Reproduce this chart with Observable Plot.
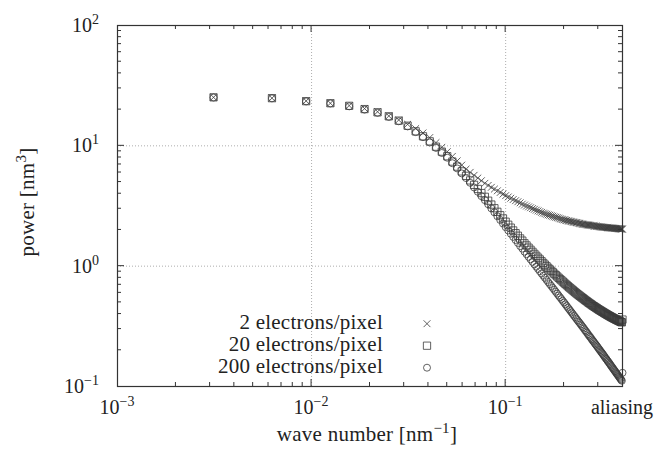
<!DOCTYPE html>
<html><head><meta charset="utf-8">
<script src="https://cdn.jsdelivr.net/npm/d3@7"></script>
<script src="https://cdn.jsdelivr.net/npm/@observablehq/plot@0.6"></script>
<style>html,body{margin:0;padding:0;background:#fff;} #chart svg{display:block;}</style>
</head><body><div id="chart"></div>
<script>
// wave numbers [nm^-1]
const waveNumber = [
0.003125,0.00625,0.009375,0.0125,0.015625,0.01875,0.021875,0.025,0.028125,0.03125,0.034375,0.0375,0.040625,0.04375,0.046875,0.05,
0.053125,0.05625,0.059375,0.0625,0.065625,0.06875,0.071875,0.075,0.078125,0.08125,0.084375,0.0875,0.090625,0.09375,0.096875,0.1,
0.103125,0.10625,0.109375,0.1125,0.115625,0.11875,0.121875,0.125,0.128125,0.13125,0.134375,0.1375,0.140625,0.14375,0.146875,0.15,
0.153125,0.15625,0.159375,0.1625,0.165625,0.16875,0.171875,0.175,0.178125,0.18125,0.184375,0.1875,0.190625,0.19375,0.196875,0.2,
0.203125,0.20625,0.209375,0.2125,0.215625,0.21875,0.221875,0.225,0.228125,0.23125,0.234375,0.2375,0.240625,0.24375,0.246875,0.25,
0.253125,0.25625,0.259375,0.2625,0.265625,0.26875,0.271875,0.275,0.278125,0.28125,0.284375,0.2875,0.290625,0.29375,0.296875,0.3,
0.303125,0.30625,0.309375,0.3125,0.315625,0.31875,0.321875,0.325,0.328125,0.33125,0.334375,0.3375,0.340625,0.34375,0.346875,0.35,
0.353125,0.35625,0.359375,0.3625,0.365625,0.36875,0.371875,0.375,0.378125,0.38125,0.384375,0.3875,0.390625,0.39375,0.396875,0.4];

// power [nm^3], 2 electrons/pixel (x)
const power2 = [
25.3,24.9,23.6,22.6,21.6,20.4,19.2,17.7,16.4,15.1,13.9,12.8,11.71,10.63,9.72,8.94,
8.17,7.50,6.91,6.40,6.02,5.69,5.40,5.13,4.88,4.69,4.52,4.37,4.23,4.10,3.97,3.855,
3.76,3.67,3.58,3.50,3.43,3.36,3.28,3.22,3.16,3.11,3.06,3.01,2.97,2.92,2.88,2.84,
2.80,2.76,2.73,2.70,2.67,2.65,2.62,2.60,2.57,2.55,2.53,2.51,2.48,2.46,2.44,2.425,
2.41,2.40,2.38,2.37,2.36,2.345,2.33,2.32,2.31,2.30,2.29,2.275,2.265,2.254,2.243,2.233,
2.225,2.218,2.212,2.206,2.199,2.193,2.187,2.181,2.175,2.169,2.163,2.158,2.152,2.147,2.141,2.136,
2.130,2.125,2.120,2.114,2.109,2.106,2.102,2.099,2.096,2.093,2.090,2.087,2.084,2.081,2.078,2.075,
2.072,2.070,2.067,2.064,2.061,2.058,2.056,2.053,2.050,2.047,2.045,2.042,2.040,2.037,2.034,2.032];

// power [nm^3], 20 electrons/pixel (square)
const power20 = [
25.3,24.9,23.5,22.6,21.5,20.2,19.0,17.6,16.2,14.7,13.2,12.0,10.9,9.84,8.95,8.20,
7.40,6.72,6.13,5.63,5.16,4.74,4.38,4.05,3.77,3.50,3.25,3.03,2.83,2.65,2.49,2.34,
2.21,2.09,1.98,1.88,1.79,1.70,1.63,1.55,1.487,1.425,1.369,1.316,1.266,1.220,1.177,1.137,
1.099,1.063,1.030,0.998,0.968,0.940,0.914,0.889,0.865,0.842,0.821,0.800,0.781,0.763,0.745,0.729,
0.712,0.697,0.682,0.668,0.655,0.642,0.630,0.618,0.607,0.596,0.586,0.576,0.567,0.558,0.549,0.541,
0.533,0.524,0.517,0.510,0.502,0.495,0.489,0.483,0.476,0.470,0.465,0.459,0.454,0.449,0.444,0.439,
0.434,0.430,0.425,0.421,0.417,0.413,0.409,0.405,0.401,0.398,0.394,0.391,0.3875,0.3843,0.3811,0.3781,
0.3751,0.3723,0.3695,0.3669,0.3642,0.3617,0.3592,0.3568,0.3545,0.3521,0.3499,0.3478,0.3456,0.3436,0.3416,0.36];

// power [nm^3], 200 electrons/pixel (circle)
const power200 = [
25.2,24.8,23.4,22.5,21.3,20.0,18.8,17.4,16.0,14.5,13.0,11.8,10.66,9.61,8.72,7.97,
7.17,6.49,5.90,5.40,4.93,4.51,4.15,3.82,3.54,3.27,3.02,2.80,2.60,2.42,2.26,2.11,
1.98,1.86,1.75,1.65,1.56,1.47,1.40,1.32,1.257,1.195,1.139,1.086,1.036,0.990,0.947,0.907,
0.869,0.833,0.800,0.768,0.738,0.710,0.684,0.659,0.635,0.612,0.591,0.570,0.551,0.533,0.515,0.499,
0.482,0.467,0.452,0.438,0.425,0.412,0.400,0.388,0.377,0.366,0.356,0.346,0.337,0.328,0.319,0.311,
0.303,0.294,0.287,0.280,0.272,0.265,0.259,0.253,0.246,0.240,0.235,0.229,0.224,0.219,0.214,0.209,
0.204,0.200,0.195,0.191,0.187,0.183,0.179,0.175,0.171,0.168,0.164,0.161,0.1575,0.1543,0.1511,0.1481,
0.1451,0.1423,0.1395,0.1369,0.1342,0.1317,0.1292,0.1268,0.1245,0.1221,0.1199,0.1178,0.1156,0.1136,0.1116,0.130];

const seriesLabels = ["2 electrons/pixel", "20 electrons/pixel", "200 electrons/pixel"];
const seriesSymbols = ["times", "square", "circle"];

const xTickValues = [0.001, 0.01, 0.1, 0.4];
const xTickLabels = [["10","\u22123"], ["10","\u22122"], ["10","\u22121"], ["aliasing",""]];
const yTickValues = [0.1, 1, 10, 100];
const yTickLabels = [["10","\u22121"], ["10","0"], ["10","1"], ["10","2"]];
const xMajorTicks = [0.01, 0.1];
const xMinorTicks = [0.002,0.003,0.004,0.005,0.006,0.007,0.008,0.009,0.02,0.03,0.04,0.05,0.06,0.07,0.08,0.09,0.2,0.3];
const yMajorTicks = [1, 10];
const yMinorTicks = [0.2,0.3,0.4,0.5,0.6,0.7,0.8,0.9,2,3,4,5,6,7,8,9,20,30,40,50,60,70,80,90];

const series = [power2, power20, power200];
const rows = series.map(vals => vals.map((p, i) => ({k: waveNumber[i], p})));
const symR = [3.2, 4.1, 3.5];
const ink = "#3a3a3a";
const font = "'Liberation Serif', 'Times New Roman', serif";

const plot = Plot.plot({
  width: 654, height: 451,
  marginLeft: 117, marginRight: 32, marginTop: 25, marginBottom: 65,
  style: {background: "#fff", fontFamily: font},
  x: {type: "log", domain: [0.001, 0.4], axis: null},
  y: {type: "log", domain: [0.1, 100], axis: null},
  marks: [
    Plot.ruleX(xMajorTicks, {stroke: "#999", strokeWidth: 0.8, strokeDasharray: "1,2"}),
    Plot.ruleY(yMajorTicks, {stroke: "#999", strokeWidth: 0.8, strokeDasharray: "1,2"}),
    ...rows.map((r, s) => Plot.dot(r, {x: "k", y: "p", symbol: seriesSymbols[s], r: symR[s], stroke: ink, strokeWidth: 0.8, fill: "none"})),
    Plot.frame({stroke: "#333", strokeWidth: 1.2})
  ]
});
document.getElementById("chart").appendChild(plot);

const svg = d3.select(plot);
const xs = plot.scale("x"), ys = plot.scale("y");
const X = v => xs.apply(v), Y = v => ys.apply(v);
const xL = X(0.001), xR = X(0.4), yB = Y(0.1), yT = Y(100);

const tg = svg.append("g").attr("stroke", "#333").attr("stroke-width", 1);
function xTick(v, len) {
  tg.append("line").attr("x1", X(v)).attr("x2", X(v)).attr("y1", yB).attr("y2", yB - len);
  tg.append("line").attr("x1", X(v)).attr("x2", X(v)).attr("y1", yT).attr("y2", yT + len);
}
function yTick(v, len) {
  tg.append("line").attr("y1", Y(v)).attr("y2", Y(v)).attr("x1", xL).attr("x2", xL + len);
  tg.append("line").attr("y1", Y(v)).attr("y2", Y(v)).attr("x1", xR).attr("x2", xR - len);
}
xMajorTicks.forEach(v => xTick(v, 7));
xMinorTicks.forEach(v => xTick(v, 4));
yMajorTicks.forEach(v => yTick(v, 7));
yMinorTicks.forEach(v => yTick(v, 4));

const txt = svg.append("g").attr("fill", "#222").attr("font-family", font).attr("font-size", 20);
function supText(sel, base, sup, after, supSize = 14) {
  sel.append("tspan").text(base);
  if (sup) sel.append("tspan").attr("dy", -8).attr("font-size", supSize).text(sup);
  if (after) sel.append("tspan").attr("dy", 8).text(after);
}
xTickValues.forEach((v, i) => {
  const t = txt.append("text").attr("x", X(v)).attr("y", 414).attr("text-anchor", "middle");
  supText(t, xTickLabels[i][0], xTickLabels[i][1]);
});
yTickValues.forEach((v, i) => {
  const t = txt.append("text").attr("x", 99).attr("y", Y(v) + 7).attr("text-anchor", "end");
  supText(t, yTickLabels[i][0], yTickLabels[i][1]);
});
supText(txt.append("text").attr("x", 367).attr("y", 441).attr("text-anchor", "middle")
  .attr("font-size", 21).attr("letter-spacing", 0.25), "wave number [nm", "\u22121", "]", 15);
supText(txt.append("text").attr("transform", "translate(34,202) rotate(-90)").attr("text-anchor", "middle")
  .attr("font-size", 21).attr("letter-spacing", 0.25), "power [nm", "3", "]", 15);

// legend
const legY = [328.7, 350.7, 372.7];
seriesLabels.forEach((lab, i) => {
  txt.append("text").attr("x", 383).attr("y", legY[i]).attr("text-anchor", "end")
    .attr("font-size", 21).attr("letter-spacing", 0.25).text(lab);
  const size = Math.PI * symR[i] * symR[i];
  const sym = i === 0 ? d3.symbolTimes : i === 1 ? d3.symbolSquare : d3.symbolCircle;
  svg.append("path").attr("d", d3.symbol(sym, size)())
    .attr("transform", `translate(427,${legY[i] - 5})`)
    .attr("fill", "none").attr("stroke", ink).attr("stroke-width", 0.8);
});
</script>
</body></html>
